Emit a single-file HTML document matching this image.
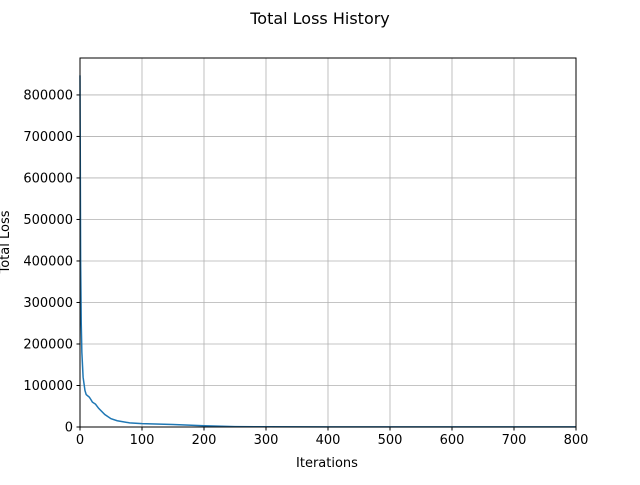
<!DOCTYPE html>
<html><head><meta charset="utf-8"><style>
body{margin:0;background:#fff;font-family:"Liberation Sans","DejaVu Sans",sans-serif}
text{font-family:"DejaVu Sans","Liberation Sans",sans-serif;font-size:13px;fill:#000}
</style></head><body>
<svg id="c" width="640" height="480">
<text x="320" y="24" text-anchor="middle" font-size="16" style="font-size:16px">Total Loss History</text>
<g id="grid"></g><g id="ticks"></g>
<path id="line" fill="none" stroke="#1f77b4" stroke-width="1.5"/>
<rect x="80" y="58" width="496" height="369" fill="none" stroke="#000" stroke-width="1"/>
<text x="327" y="467" text-anchor="middle">Iterations</text>
<text transform="translate(9,242) rotate(-90)" text-anchor="middle">Total Loss</text>
</svg>
<script>
const iterations=[0,1,2,3,5,8,10,15,18,20,25,30,40,50,60,80,100,150,200,250,300,400,500,600,700,800];
const lossValues=[847000,400000,250000,180000,120000,88000,78000,72000,65000,60000,55000,45000,30000,20000,15000,10000,8000,6000,3000,1000,500,300,250,220,200,200];
const xTicks=[0,100,200,300,400,500,600,700,800];
const yTicks=[0,100000,200000,300000,400000,500000,600000,700000,800000];
const L=80,R=576,T=58,B=427,XMAX=800,YMAX=889000;
const sx=v=>L+(v/XMAX)*(R-L), sy=v=>B-(v/YMAX)*(B-T);
const ns="http://www.w3.org/2000/svg";
const grid=document.getElementById('grid'),ticks=document.getElementById('ticks');
function mk(tag,a,p){const e=document.createElementNS(ns,tag);for(const k in a)e.setAttribute(k,a[k]);p.appendChild(e);return e;}
xTicks.forEach(v=>{const x=sx(v);
const g=mk('line',{x1:x,x2:x,y1:T,y2:B,stroke:'#b0b0b0','stroke-width':0.8},grid);


mk('line',{x1:x,x2:x,y1:B,y2:B+3.5,stroke:'#000'},ticks);
const t=mk('text',{x:x,y:B+17,'text-anchor':'middle'},ticks);t.textContent=v;

});
yTicks.forEach(v=>{const y=sy(v);
const g=mk('line',{x1:L,x2:R,y1:y,y2:y,stroke:'#b0b0b0','stroke-width':0.8},grid);


mk('line',{x1:L-3.5,x2:L,y1:y,y2:y,stroke:'#000'},ticks);
const t=mk('text',{x:L-7,y:y+4.5,'text-anchor':'end'},ticks);t.textContent=v;

});
document.getElementById('line').setAttribute('d',iterations.map((v,i)=>(i?'L':'M')+sx(v).toFixed(2)+','+sy(lossValues[i]).toFixed(2)).join(''));
</script>
</body></html>
